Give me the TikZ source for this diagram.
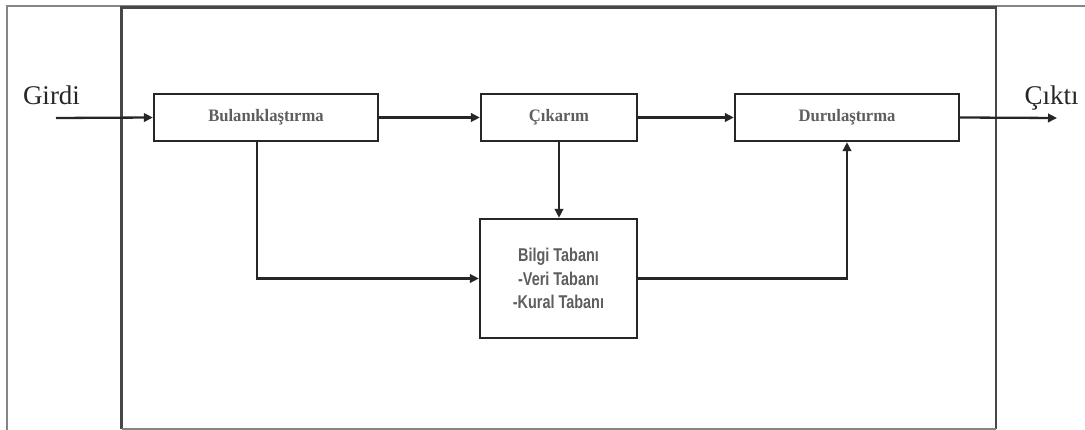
\documentclass[tikz,border=0pt]{standalone}
\usepackage{fontspec}
\setmainfont{Liberation Serif}
\newfontfamily\condsans[FakeStretch=0.78]{Liberation Sans}
\newfontfamily\blockserif[FakeStretch=0.95]{Liberation Serif}
\usetikzlibrary{arrows.meta}
\definecolor{linecol}{HTML}{262626}
\definecolor{framegray}{HTML}{858585}
\definecolor{txtgray}{HTML}{5E5E5E}
\tikzset{
  block/.style={draw=linecol, line width=2.3pt, fill=white, inner sep=0pt,
    text=txtgray, font=\blockserif\fontsize{17.5}{19}\selectfont\bfseries},
  flow/.style={draw=linecol, line width=2.3pt,
    -{Triangle[length=9pt,width=8.5pt]}},
  iolabel/.style={anchor=base, inner sep=0pt, text=black!85,
    font=\fontsize{27}{29}\selectfont}
}
\begin{document}
\begin{tikzpicture}[x=1pt,y=-1pt]
  \useasboundingbox (0,0) rectangle (1085,430);
  \clip (0,0) rectangle (1085,430);

  % outer gray border and the system frame
  \draw[framegray, line width=2pt] (7,445) -- (7,6) -- (1100,6);
  \draw[linecol!85, line width=2.6pt] (121.5,429) -- (121.5,7.5) -- (996,7.5) -- (996,429);
  \draw[framegray, line width=2pt] (121.5,429) -- (996,429);

  % processing blocks
  \node[block, minimum width=224pt, minimum height=47pt] (bul) at (266,117.5) {Bulanıklaştırma};
  \node[block, minimum width=156pt, minimum height=47pt] (cik) at (559,117.5) {Çıkarım};
  \node[block, minimum width=224pt, minimum height=47pt] (dur) at (847,117.5) {Durulaştırma};
  \node[block, minimum width=157pt, minimum height=119pt, align=center,
        font=\condsans\fontsize{18.5}{23.5}\selectfont\bfseries] (bilgi) at (558.5,278.5)
        {Bilgi Tabanı\\-Veri Tabanı\\-Kural Tabanı};

  % input and output
  \coordinate (inp) at (56,118);
  \coordinate (outp) at (1057,118);
  \node[iolabel] (girdi) at (51.5,105) {Girdi};
  \node[iolabel] (cikti) at (1051.5,105) {Çıktı};

  % connectors
  \draw[flow] (inp) -- (bul.west);
  \draw[flow] (bul.east) -- (cik.west);
  \draw[flow] (cik.east) -- (dur.west);
  \draw[flow] (dur.east) -- (outp);
  \draw[flow] (cik.south) -- (cik.south |- bilgi.north);
  \draw[flow] ([xshift=-9pt]bul.south) |- (bilgi.west);
  \draw[flow] (bilgi.east) -| (dur.south);
\end{tikzpicture}
\end{document}
